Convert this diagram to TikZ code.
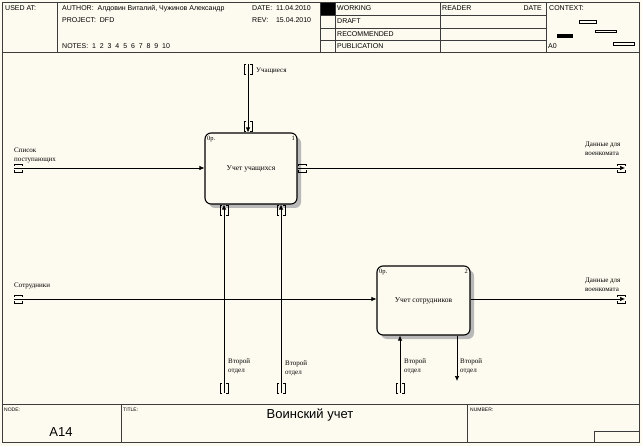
\documentclass[tikz,border=0pt]{standalone}
\usepackage{fontspec}
\setmainfont{Liberation Serif}
\newfontfamily\hdrfont{Liberation Sans}
\usetikzlibrary{arrows.meta,calc}
\definecolor{paper}{RGB}{253,251,240}
\definecolor{frame}{RGB}{60,60,60}
\tikzset{
  hdr/.style={font=\hdrfont\fontsize{7}{8}\selectfont, anchor=west, inner sep=0pt},
  lbl/.style={font=\fontsize{7}{8.5}\selectfont, anchor=north west, inner sep=0pt, align=left},
  actbox/.style={draw=black, line width=1.1pt, rounded corners=6pt, fill=paper},
  shadowbox/.style={fill=gray!55, rounded corners=6pt},
  flow/.style={line width=0.7pt, -{Latex[length=5pt,width=4.5pt]}},
  tun/.style={line width=0.7pt},
  grid/.style={draw=frame, line width=0.6pt},
  pics/vtun/.style={code={
    \draw[tun] (-2,-5) -- (-4,-5) -- (-4,5) -- (-2,5);
    \draw[tun] (2,-5) -- (4,-5) -- (4,5) -- (2,5);}},
  pics/htun/.style={code={
    \draw[tun] (-4,-2) -- (-4,-4) -- (4,-4) -- (4,-2);
    \draw[tun] (-4,2) -- (-4,4) -- (4,4) -- (4,2);}}
}
\begin{document}
\begin{tikzpicture}[x=1pt,y=-1pt]
\useasboundingbox (0,0) rectangle (642,446);
\fill[paper] (0,0) rectangle (642,446);
% ---------- outer frame ----------
\draw[grid] (2,2) rectangle (639,442);
% header
\draw[grid] (2,52) -- (639,52);
\draw[grid] (57,2) -- (57,52);
\draw[grid] (320,2) -- (320,52);
\draw[grid] (335,2) -- (335,52);
\draw[grid] (440,2) -- (440,52);
\draw[grid] (546,2) -- (546,52);
\foreach \yy in {15,28,40} \draw[grid] (320,\yy) -- (546,\yy);
\fill[black] (321,3) rectangle (335,15);
\node[hdr] (usedat) at (5,8.5) {USED AT:};
\node[hdr] (author) at (62,8.5) {AUTHOR:\ \ Алдовин Виталий, Чужинов Александр};
\node[hdr] (project) at (62,20) {PROJECT:\ \ DFD};
\node[hdr] (notes) at (62,46) {NOTES:\ \ 1\ \ 2\ \ 3\ \ 4\ \ 5\ \ 6\ \ 7\ \ 8\ \ 9\ \ 10};
\node[hdr] (date) at (252,8.5) {DATE:\ \ 11.04.2010};
\node[hdr] (rev) at (252,20) {REV:\ \ \ \ 15.04.2010};
\node[hdr] (working) at (337,8.5) {WORKING};
\node[hdr] (draft) at (337,21.5) {DRAFT};
\node[hdr] (recom) at (337,34) {RECOMMENDED};
\node[hdr] (publ) at (337,46) {PUBLICATION};
\node[hdr] (reader) at (442,8.5) {READER};
\node[hdr,anchor=east] (rdate) at (542,8.5) {DATE};
\node[hdr] (context) at (549,8.5) {CONTEXT:};
\node[hdr] (azero) at (548,46.5) {A0};
\draw[line width=0.6pt] (579,20) rectangle (596,23);
\draw[line width=0.6pt] (595,30) rectangle (616,32.5);
\fill[black] (557,34) rectangle (573,38.5);
\draw[line width=0.6pt] (613,42) rectangle (634,45);
% footer
\draw[grid] (2,404) -- (639,404);
\draw[grid] (121,404) -- (121,442);
\draw[grid] (467,404) -- (467,442);
\draw[grid] (594,431) rectangle (639,442);
\node[hdr,font=\hdrfont\fontsize{5}{6}\selectfont] (nodelbl) at (4,410) {NODE:};
\node[hdr,font=\hdrfont\fontsize{5}{6}\selectfont] (titlelbl) at (123,410) {TITLE:};
\node[hdr,font=\hdrfont\fontsize{5}{6}\selectfont] (numlbl) at (470,410) {NUMBER:};
\node[font=\hdrfont\fontsize{13}{15}\selectfont, inner sep=0pt] (anode) at (61,432) {A14};
\node[font=\hdrfont\fontsize{13}{15}\selectfont, inner sep=0pt] (title) at (310,415) {Воинский учет};
% ---------- activity boxes ----------
\fill[shadowbox] (209,137) rectangle (301,208);
\node[actbox, minimum width=92pt, minimum height=71pt, inner sep=0pt, font=\fontsize{7.5}{9}\selectfont] (b1) at (251,168.5) {Учет учащихся};
\node[lbl, font=\fontsize{6.5}{7}\selectfont] (b1op) at (207,136) {0р.};
\node[lbl, anchor=north east, font=\fontsize{6.5}{7}\selectfont] (b1n) at (295,136) {1};
\fill[shadowbox] (381,270) rectangle (474,339);
\node[actbox, minimum width=93pt, minimum height=69pt, inner sep=0pt, font=\fontsize{7.5}{9}\selectfont] (b2) at (423.5,300.5) {Учет сотрудников};
\node[lbl, font=\fontsize{6.5}{7}\selectfont] (b2op) at (379,269) {0р.};
\node[lbl, anchor=north east, font=\fontsize{6.5}{7}\selectfont] (b2n) at (468,269) {2};
% ---------- endpoints ----------
\coordinate (in1) at (14,168);
\coordinate (out1) at (625,168);
\coordinate (ctl1) at (248,64);
\coordinate (m1a) at (224,393);
\coordinate (m1b) at (281,393);
\coordinate (in2) at (14,299);
\coordinate (out2) at (625,299);
\coordinate (m2) at (400,393);
\coordinate (o2) at (457,381);
% ---------- connectors ----------
\draw[flow] (in1) -- (b1.west |- in1);
\draw[flow] (b1.east |- out1) -- (out1);
\draw[flow] (ctl1) -- (b1.north -| ctl1);
\draw[flow] (m1a) -- (b1.south -| m1a);
\draw[flow] (m1b) -- (b1.south -| m1b);
\draw[flow] (in2) -- (b2.west |- in2);
\draw[flow] (b2.east |- out2) -- (out2);
\draw[flow] (m2) -- (b2.south -| m2);
\draw[flow] (b2.south -| o2) -- (o2);
% ---------- tunnels ----------
\pic at ($(in1)+(4,0)$) {htun};
\pic at ($(out1)+(-4,0)$) {htun};
\pic at ($(b1.east |- out1)+(5,0)$) {htun};
\pic at ($(ctl1)+(0,5)$) {vtun};
\pic at ($(b1.north -| ctl1)+(0,-6)$) {vtun};
\pic at ($(b1.south -| m1a)+(0,6)$) {vtun};
\pic at ($(b1.south -| m1b)+(0,6)$) {vtun};
\pic at ($(m1a)+(0,-5)$) {vtun};
\pic at ($(m1b)+(0,-5)$) {vtun};
\pic at ($(in2)+(4,0)$) {htun};
\pic at ($(out2)+(-4,0)$) {htun};
\pic at ($(m2)+(0,-5)$) {vtun};
% ---------- labels ----------
\node[lbl] (lin1) at (14,148) {Список\\поступающих};
\node[lbl] (lout1) at (585,142) {Данные для\\военкомата};
\node[lbl] (lctl1) at (256,68) {Учащиеся};
\node[lbl] (lm1a) at (228,359) {Второй\\отдел};
\node[lbl] (lm1b) at (285,361) {Второй\\отдел};
\node[lbl] (lin2) at (14,283) {Сотрудники};
\node[lbl] (lout2) at (585,278) {Данные для\\военкомата};
\node[lbl] (lm2) at (404,359) {Второй\\отдел};
\node[lbl] (lo2) at (460,359) {Второй\\отдел};
\end{tikzpicture}
\end{document}
